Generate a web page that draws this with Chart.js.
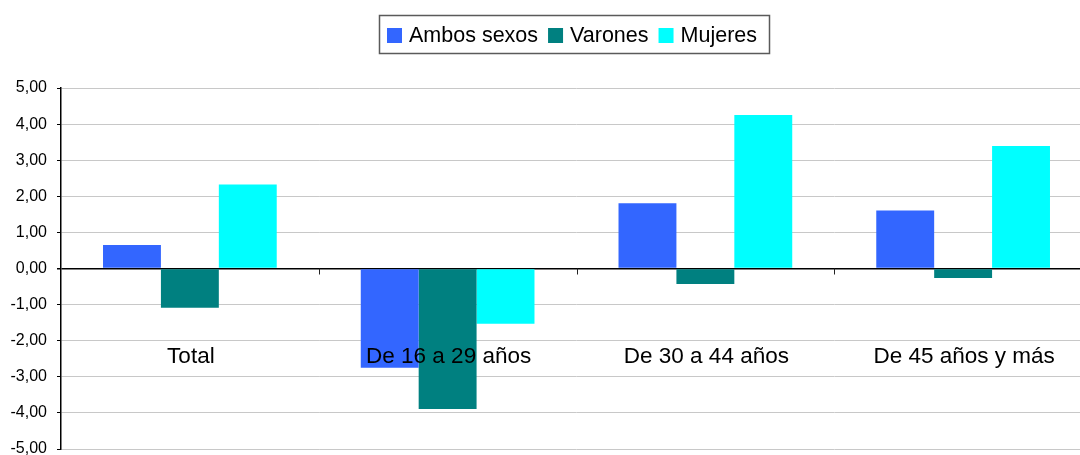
<!DOCTYPE html>
<html>
<head>
<meta charset="utf-8">
<script src="https://cdn.jsdelivr.net/npm/chart.js@4/dist/chart.umd.min.js"></script>
<style>
  html, body { margin: 0; padding: 0; background: #fff; overflow: hidden; }
</style>
</head>
<body>
<canvas id="grafico" width="1092" height="455"></canvas>
<script>
const categorias = ['Total', 'De 16 a 29 años', 'De 30 a 44 años', 'De 45 años y más'];
const ambosSexos = [0.65, -2.75, 1.81, 1.61];
const varones = [-1.09, -3.89, -0.43, -0.26];
const mujeres = [2.33, -1.53, 4.25, 3.39];
const marcasY = [5, 4, 3, 2, 1, 0, -1, -2, -3, -4, -5];

const fuente = '"Liberation Sans", Arial, sans-serif';

// leyenda con marco, como en el original
const leyendaEnmarcada = {
  id: 'leyendaEnmarcada',
  afterDraw(chart) {
    const ctx = chart.ctx;
    ctx.save();
    ctx.strokeStyle = '#5a5a5a';
    ctx.lineWidth = 1.5;
    ctx.strokeRect(379.5, 15.5, 390, 38);
    ctx.font = '21.5px ' + fuente;
    ctx.textBaseline = 'middle';
    let x = 387;
    chart.data.datasets.forEach(ds => {
      ctx.fillStyle = ds.backgroundColor;
      ctx.fillRect(x, 28, 15, 15);
      x += 22;
      ctx.fillStyle = '#000';
      ctx.fillText(ds.label, x, 36);
      x += ctx.measureText(ds.label).width + 10;
    });
    ctx.restore();
  }
};

// etiquetas de categoria dentro del area y marcas en el eje cero
const etiquetasCategoria = {
  id: 'etiquetasCategoria',
  afterDatasetsDraw(chart) {
    const ctx = chart.ctx;
    const ex = chart.scales.x, ey = chart.scales.y;
    const cero = ey.getPixelForValue(0);
    ctx.save();
    ctx.strokeStyle = '#222';
    ctx.lineWidth = 1;
    for (let i = 1; i < categorias.length; i++) {
      const xb = Math.round((ex.getPixelForValue(i - 1) + ex.getPixelForValue(i)) / 2) + 0.5;
      ctx.beginPath();
      ctx.moveTo(xb, cero);
      ctx.lineTo(xb, cero + 6);
      ctx.stroke();
    }
    ctx.font = '22.5px ' + fuente;
    ctx.fillStyle = '#000';
    ctx.textAlign = 'center';
    ctx.textBaseline = 'middle';
    categorias.forEach((c, i) => {
      ctx.fillText(c, ex.getPixelForValue(i) + 1, ey.getPixelForValue(-2.45));
    });
    ctx.restore();
  }
};

new Chart(document.getElementById('grafico').getContext('2d'), {
  type: 'bar',
  data: {
    labels: categorias,
    datasets: [
      { label: 'Ambos sexos', data: ambosSexos, backgroundColor: '#3366FF' },
      { label: 'Varones', data: varones, backgroundColor: '#008080' },
      { label: 'Mujeres', data: mujeres, backgroundColor: '#00FFFF' }
    ]
  },
  options: {
    responsive: false,
    animation: false,
    layout: { padding: { top: 88, bottom: 6, left: 0, right: 0 } },
    datasets: { bar: { categoryPercentage: 0.674, barPercentage: 1.0 } },
    plugins: {
      legend: { display: false },
      tooltip: { enabled: false }
    },
    scales: {
      x: { display: false },
      y: {
        min: -5,
        max: 5,
        afterBuildTicks: escala => { escala.ticks = marcasY.map(v => ({ value: v })); },
        afterFit: escala => {
          escala.width = 61;
          escala.paddingTop = 0;
          escala.paddingBottom = 0;
        },
        border: { color: '#000', width: 1.5 },
        grid: {
          color: c => c.tick && c.tick.value === 0 ? '#000' : '#c8c8c8',
          lineWidth: c => c.tick && c.tick.value === 0 ? 1.5 : 1,
          tickColor: '#000',
          tickLength: 4
        },
        ticks: {
          color: '#000',
          padding: 10,
          font: { family: fuente, size: 16 },
          callback: v => v.toFixed(2).replace('.', ',')
        }
      }
    }
  },
  plugins: [leyendaEnmarcada, etiquetasCategoria]
});
</script>
</body>
</html>
